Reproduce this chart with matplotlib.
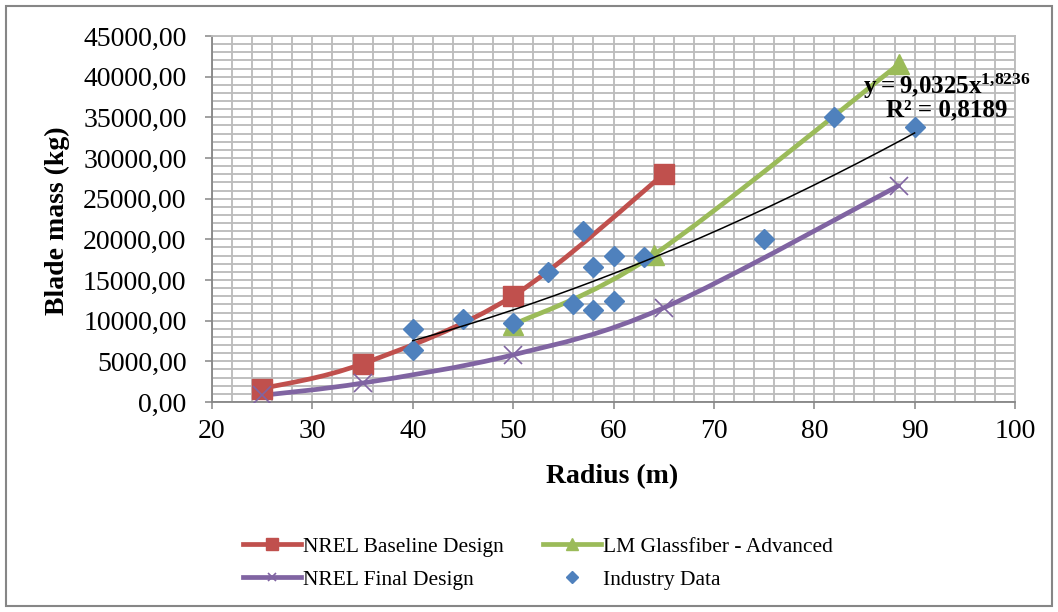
import numpy as np
import matplotlib.pyplot as plt
from matplotlib.path import Path
from matplotlib.patches import PathPatch, Rectangle
from matplotlib.lines import Line2D
from matplotlib.ticker import MultipleLocator, FuncFormatter

plt.rcParams['font.family'] = ['Liberation Serif', 'DejaVu Serif']
plt.rcParams['mathtext.fontset'] = 'custom'
plt.rcParams['mathtext.rm'] = 'Liberation Serif'
plt.rcParams['mathtext.bf'] = 'Liberation Serif:bold'

# blade mass (kg) against rotor radius (m)
baseline_r = [25, 35, 50, 65]
baseline_m = [1650, 4700, 13050, 28000]

glass_r = [50, 64, 88.4]
glass_m = [9500, 18100, 41500]

final_r = [25, 35, 50, 65, 88.4]
final_m = [820, 2330, 5800, 11580, 26600]

industry_r = [40, 40, 45, 50, 53.5, 57, 58, 60, 63, 56, 58, 60, 75, 82, 90]
industry_m = [9000, 6420, 10230, 9700, 15950, 21050, 16550, 18000, 17800,
              11990, 11330, 12400, 20050, 34980, 33750]

# power trendline fitted to the industry data
trend_a = 9.0325
trend_b = 1.8236
trend_r2 = 0.8189

RED = '#C0504D'
GREEN = '#9BBB59'
PURPLE = '#8064A2'
BLUE = '#4F81BD'


def smooth_path(xs, ys):
    # Catmull-Rom style bezier through the points, like a spreadsheet "smoothed line"
    pts = np.column_stack([xs, ys]).astype(float)
    n = len(pts)
    verts = [pts[0]]
    codes = [Path.MOVETO]
    for i in range(n - 1):
        p0 = pts[max(i - 1, 0)]
        p1 = pts[i]
        p2 = pts[i + 1]
        p3 = pts[min(i + 2, n - 1)]
        verts += [p1 + (p2 - p0) / 6, p2 - (p3 - p1) / 6, p2]
        codes += [Path.CURVE4] * 3
    return Path(verts, codes)


def comma_fmt(v, pos=None):
    return f'{v:.2f}'.replace('.', ',')


fig = plt.figure(figsize=(10.58, 6.12), dpi=100)
ax = fig.add_axes([212 / 1058, 1 - 402 / 612, 803 / 1058, 366 / 612])

ax.set_xlim(20, 100)
ax.set_ylim(0, 45000)
ax.xaxis.set_major_locator(MultipleLocator(10))
ax.xaxis.set_minor_locator(MultipleLocator(2))
ax.yaxis.set_major_locator(MultipleLocator(5000))
ax.yaxis.set_minor_locator(MultipleLocator(1000))
ax.yaxis.set_major_formatter(FuncFormatter(comma_fmt))

ax.grid(which='both', color='#bcbcbc', linewidth=1.35)
ax.set_axisbelow(True)
for side in ['top', 'right']:
    ax.spines[side].set_color('#bcbcbc')
    ax.spines[side].set_linewidth(1.35)
for side in ['left', 'bottom']:
    ax.spines[side].set_color('#868686')
    ax.spines[side].set_linewidth(1.3)
ax.tick_params(which='major', direction='out', length=5.3, width=1.1,
               color='#868686', labelsize=20)
ax.tick_params(axis='y', pad=13)
ax.tick_params(axis='x', pad=7)
ax.tick_params(which='minor', length=0)

series = [
    (baseline_r, baseline_m, RED, dict(marker='s', markersize=14)),
    (glass_r, glass_m, GREEN, dict(marker='^', markersize=15)),
    (final_r, final_m, PURPLE, dict(marker='x', markersize=13, markeredgewidth=1.2)),
]
for r, m, col, mk in series:
    ax.add_patch(PathPatch(smooth_path(r, m), facecolor='none', edgecolor=col,
                           linewidth=3.4, capstyle='round', joinstyle='round', zorder=3))
    ax.plot(r, m, linestyle='none', color=col, markeredgecolor=col, zorder=4, **mk)

ax.plot(industry_r, industry_m, linestyle='none', marker='D', markersize=10,
        color=BLUE, markeredgecolor=BLUE, zorder=5)

tx = np.linspace(min(industry_r), max(industry_r), 200)
ax.plot(tx, trend_a * tx ** trend_b, color='black', linewidth=1.1, zorder=6)

a_txt = f'{trend_a:.4f}'.replace('.', '{,}')
b_txt = f'{trend_b:.4f}'.replace('.', '{,}')
ax.text(93.2, 38850, f'$\\mathbf{{y = {a_txt}x^{{{b_txt}}}}}$', fontsize=18,
        ha='center', va='center', zorder=7)
ax.text(93.2, 35900, f'R² = {trend_r2:.4f}'.replace('.', ','), fontsize=18,
        fontweight='bold', ha='center', va='center', zorder=7)

fig.text(57 / 1058, 1 - 221 / 612, 'Blade mass (kg)', rotation=90, fontsize=20,
         fontweight='bold', ha='center', va='center')
fig.text(612 / 1058, 1 - 483 / 612, 'Radius (m)', fontsize=20,
         fontweight='bold', ha='center', va='baseline')

handles = [
    Line2D([], [], color=RED, linewidth=3.4, marker='s', markersize=8),
    Line2D([], [], color=PURPLE, linewidth=3.4, marker='x', markersize=6,
           markeredgewidth=1.2),
    Line2D([], [], color=GREEN, linewidth=3.4, marker='^', markersize=8),
    Line2D([], [], color=BLUE, linestyle='none', marker='D', markersize=6),
]
labels = ['NREL Baseline Design', 'NREL Final Design',
          'LM Glassfiber - Advanced', 'Industry Data']
fig.legend(handles, labels, loc='center', bbox_to_anchor=(538 / 1058, 1 - 563 / 612),
           ncol=2, frameon=False, fontsize=15.5, handlelength=2.7, handletextpad=0.1,
           columnspacing=1.8, labelspacing=0.6)

fig.patches.append(Rectangle((6 / 1058, 6 / 612), 1046 / 1058, 600 / 612,
                             transform=fig.transFigure, fill=False,
                             edgecolor='#868686', linewidth=1.5))

fig.savefig('out.png', dpi=100)
